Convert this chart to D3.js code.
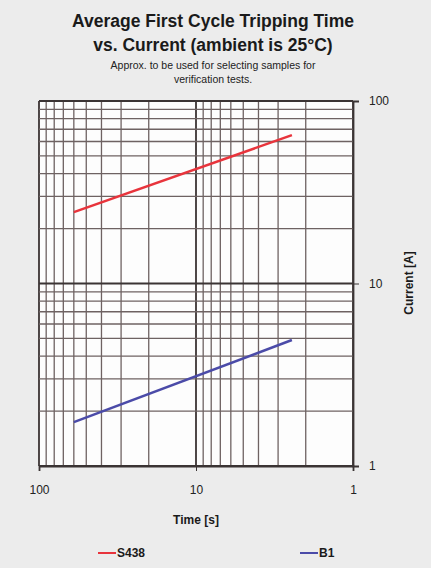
<!DOCTYPE html>
<html>
<head>
<meta charset="utf-8">
<script src="https://cdnjs.cloudflare.com/ajax/libs/d3/7.8.5/d3.min.js"></script>
<style>
  body { margin: 0; background: #ececec; }
  svg { display: block; font-family: "Liberation Sans", Arial, sans-serif; }
</style>
</head>
<body>
<div id="chart"></div>
<script>
// series: time [s] vs current [A]
var seriesNames = ["S438", "B1"];
var seriesColors = ["#e8343c", "#4b4ba8"];
var timeValues = [60, 2.45];
var s438Current = [24.6, 65];
var b1Current = [1.74, 4.9];
var xTicks = [100, 10, 1];
var yTicks = [1, 10, 100];

var width = 431, height = 568;
var plot = {left: 39, right: 353, top: 101, bottom: 466};

var svg = d3.select("#chart").append("svg")
  .attr("width", width)
  .attr("height", height);

svg.append("rect").attr("width", width).attr("height", height).attr("fill", "#ececec");

// time axis runs backwards, 100 s on the left
var x = d3.scaleLog().domain([100, 1]).range([plot.left, plot.right]);
var y = d3.scaleLog().domain([1, 100]).range([plot.bottom, plot.top]);

svg.append("rect")
  .attr("x", plot.left).attr("y", plot.top)
  .attr("width", plot.right - plot.left).attr("height", plot.bottom - plot.top)
  .attr("fill", "#fdfdfd");

// grid lines for 1..9 x each decade
var gridX = [], gridY = [];
[1, 10].forEach(function(dec) {
  for (var i = 1; i <= 10; i++) {
    gridX.push(dec * i);
    gridY.push(dec * i);
  }
});
gridX = Array.from(new Set(gridX));
gridY = Array.from(new Set(gridY));

function isMajor(v) { return v === 1 || v === 10 || v === 100; }

svg.append("g").selectAll("line")
  .data(gridX)
  .enter().append("line")
  .attr("x1", function(d) { return x(d); })
  .attr("x2", function(d) { return x(d); })
  .attr("y1", plot.top)
  .attr("y2", plot.bottom)
  .attr("stroke", function(d) { return isMajor(d) ? "#3b3434" : "#6e6262"; })
  .attr("stroke-width", function(d) { return isMajor(d) ? 1.8 : 1.3; });

svg.append("g").selectAll("line")
  .data(gridY)
  .enter().append("line")
  .attr("x1", plot.left)
  .attr("x2", plot.right)
  .attr("y1", function(d) { return y(d); })
  .attr("y2", function(d) { return y(d); })
  .attr("stroke", function(d) { return isMajor(d) ? "#3b3434" : "#6e6262"; })
  .attr("stroke-width", function(d) { return isMajor(d) ? 1.8 : 1.3; });

// axes
var xAxis = d3.axisBottom(x).tickValues(xTicks).tickFormat(d3.format("d")).tickSize(5).tickPadding(14);
var yAxis = d3.axisRight(y).tickValues(yTicks).tickFormat(d3.format("d")).tickSize(6).tickPadding(10);

var gx = svg.append("g").attr("transform", "translate(0," + plot.bottom + ")").call(xAxis);
var gy = svg.append("g").attr("transform", "translate(" + plot.right + ",0)").call(yAxis);
[gx, gy].forEach(function(g) {
  g.select(".domain").attr("stroke", "#3b3434").attr("stroke-width", 1.8);
  g.selectAll(".tick line").attr("stroke", "#3b3434");
  g.selectAll("text").attr("font-size", 12).attr("fill", "#222")
    .attr("font-family", "Liberation Sans, Arial, sans-serif");
});

// data lines
var line = d3.line()
  .x(function(d) { return x(d[0]); })
  .y(function(d) { return y(d[1]); });

var allSeries = [s438Current, b1Current];
allSeries.forEach(function(vals, i) {
  var pts = timeValues.map(function(t, j) { return [t, vals[j]]; });
  svg.append("path")
    .datum(pts)
    .attr("d", line)
    .attr("fill", "none")
    .attr("stroke", seriesColors[i])
    .attr("stroke-width", 2.5);
});

// titles
svg.append("text").attr("x", 213).attr("y", 27).attr("text-anchor", "middle")
  .attr("font-size", 17.5).attr("font-weight", "bold").attr("fill", "#1a1a1a")
  .text("Average First Cycle Tripping Time");
svg.append("text").attr("x", 213).attr("y", 51).attr("text-anchor", "middle")
  .attr("font-size", 17.5).attr("font-weight", "bold").attr("fill", "#1a1a1a")
  .text("vs. Current (ambient is 25°C)");
svg.append("text").attr("x", 213).attr("y", 69).attr("text-anchor", "middle")
  .attr("font-size", 10.5).attr("fill", "#222")
  .text("Approx. to be used for selecting samples for");
svg.append("text").attr("x", 213).attr("y", 83).attr("text-anchor", "middle")
  .attr("font-size", 10.5).attr("fill", "#222")
  .text("verification tests.");

svg.append("text").attr("x", 196).attr("y", 524).attr("text-anchor", "middle")
  .attr("font-size", 12).attr("font-weight", "bold").attr("fill", "#1a1a1a")
  .text("Time [s]");

svg.append("text")
  .attr("transform", "translate(413," + 283 + ") rotate(-90)")
  .attr("text-anchor", "middle")
  .attr("font-size", 12).attr("font-weight", "bold").attr("fill", "#1a1a1a")
  .text("Current [A]");

// legend
var legendX = [98, 300];
seriesNames.forEach(function(name, i) {
  var g = svg.append("g").attr("transform", "translate(" + legendX[i] + ",557)");
  g.append("line").attr("x1", 0).attr("x2", 18).attr("y1", -4).attr("y2", -4)
    .attr("stroke", seriesColors[i]).attr("stroke-width", 2);
  g.append("text").attr("x", 19).attr("y", 0)
    .attr("font-size", 12).attr("font-weight", "bold").attr("fill", "#1a1a1a")
    .text(name);
});
</script>
</body>
</html>
